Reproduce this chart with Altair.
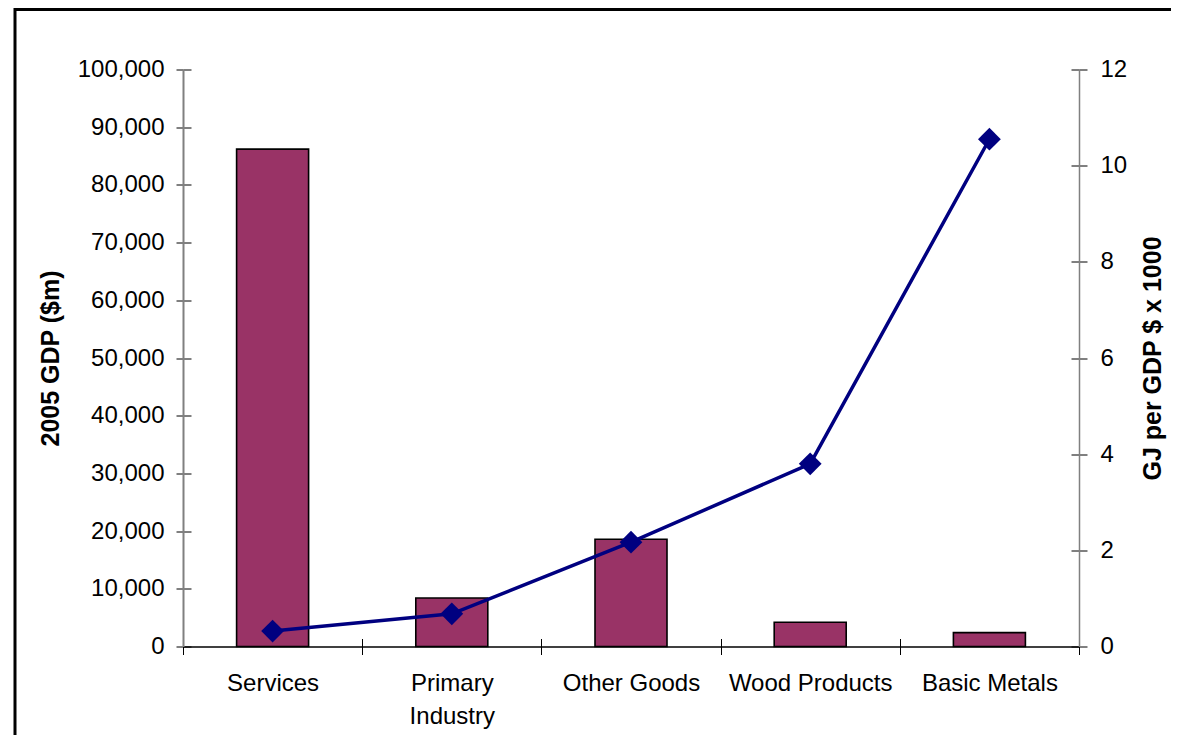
import altair as alt
import pandas as pd

categories = ["Services", "Primary Industry", "Other Goods", "Wood Products", "Basic Metals"]
gdp_2005 = [86200, 8400, 18600, 4200, 2400]
gj_per_gdp = [0.32, 0.68, 2.17, 3.80, 10.55]

left_ticks = [0, 10000, 20000, 30000, 40000, 50000, 60000, 70000, 80000, 90000, 100000]
right_ticks = [0, 2, 4, 6, 8, 10, 12]

df = pd.DataFrame({"sector": categories, "gdp": gdp_2005, "gj": gj_per_gdp})

FONT = "Liberation Sans"
W, H = 896, 577

x_enc = alt.X(
    "sector:N",
    sort=categories,
    scale=alt.Scale(paddingInner=0, paddingOuter=0),
    axis=alt.Axis(
        title=None,
        labelAngle=0,
        tickBand="extent",
        tickSize=8,
        tickColor="black",
        tickWidth=1,
        grid=True,
        gridDash=[0, H - 8, 8, 3000],
        gridColor="black",
        gridWidth=1,
        gridOpacity=1,
        domainColor="black",
        domainWidth=1.5,
        labelFont=FONT,
        labelFontSize=24,
        labelColor="black",
        labelPadding=17,
        labelLineHeight=33,
        labelExpr="datum.value == 'Primary Industry' ? ['Primary', 'Industry'] : datum.value",
    ),
)

bars = alt.Chart(df).mark_bar(
    size=72, color="#993366", stroke="black", strokeWidth=1.6
).encode(
    x=x_enc,
    y=alt.Y(
        "gdp:Q",
        scale=alt.Scale(domain=[0, 100000], nice=False),
        axis=alt.Axis(
            title="2005 GDP ($m)",
            values=left_ticks,
            format=",d",
            orient="left",
            tickSize=7,
            tickColor="black",
            labelPadding=12,
            labelFont=FONT,
            labelFontSize=24,
            labelColor="black",
            grid=True,
            gridDash=[8, 3000],
            gridColor="black",
            gridWidth=1,
            gridOpacity=1,
            domainColor="#808080",
            domainWidth=2,
            titleFont=FONT,
            titleFontSize=25,
            titleFontWeight="bold",
            titleColor="black",
            titleAngle=270,
            titleAlign="center",
            titleBaseline="middle",
            titleX=-133,
            titleY=H / 2,
        ),
    ),
)

line = alt.Chart(df).mark_line(
    color="#000080", strokeWidth=3.5,
    point=alt.OverlayMarkDef(shape="diamond", size=520, filled=True, color="#000080", opacity=1),
).encode(
    x=alt.X("sector:N", sort=categories),
    y=alt.Y(
        "gj:Q",
        scale=alt.Scale(domain=[0, 12], nice=False),
        axis=alt.Axis(
            title="GJ per GDP $ x 1000",
            values=right_ticks,
            orient="right",
            tickSize=8,
            tickColor="black",
            labelPadding=13,
            labelFont=FONT,
            labelFontSize=24,
            labelColor="black",
            grid=True,
            gridDash=[8, 3000],
            gridColor="black",
            gridWidth=1,
            gridOpacity=1,
            domainColor="#808080",
            domainWidth=1.5,
            titleFont=FONT,
            titleFontSize=25,
            titleFontWeight="bold",
            titleColor="black",
            titleAngle=270,
            titleAlign="center",
            titleBaseline="middle",
            titleX=73,
            titleY=H / 2,
        ),
    ),
)

frame = alt.Chart(alt.Data(values=[{"k": 1}])).mark_rect(
    fillOpacity=0, stroke="black", strokeWidth=3, clip=False
).encode(
    x=alt.value(-168), x2=alt.value(W + 300),
    y=alt.value(-60), y2=alt.value(H + 300),
)

chart = alt.layer(frame, bars, line).resolve_scale(
    y="independent"
).properties(
    width=W,
    height=H,
    autosize=alt.AutoSizeParams(type="none"),
    padding={"left": 175, "top": 61.5, "right": 92, "bottom": 90},
    background="white",
).configure_view(stroke=None)

chart.save("out.html", embed_options={"renderer": "svg", "actions": False})
